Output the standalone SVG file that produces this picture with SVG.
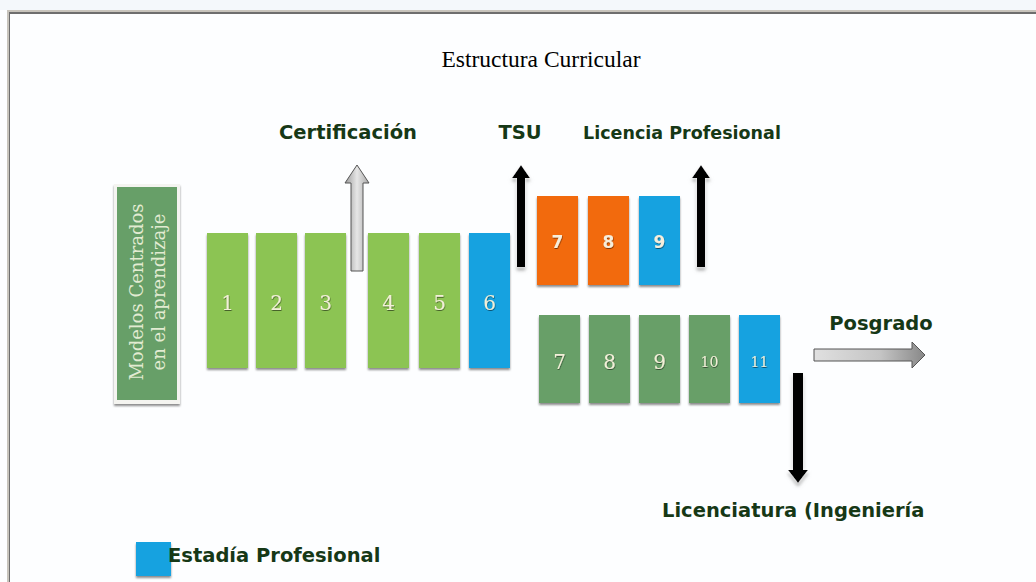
<svg xmlns="http://www.w3.org/2000/svg" width="1036" height="582" viewBox="0 0 1036 582">
<defs>
<style>
.lbl{font-family:"DejaVu Sans",Verdana,sans-serif;font-weight:bold;font-size:19.5px;fill:#163816;}
.num{font-family:"DejaVu Serif","Liberation Serif",serif;font-size:20px;fill:#f2efd8;text-anchor:middle;}
.sm{font-size:14px;}
.numb{font-family:"DejaVu Sans",Verdana,sans-serif;font-weight:bold;font-size:17px;fill:#f6eedc;text-anchor:middle;}
.g1{fill:#8cc453;}
.bl{fill:#16a2e0;}
.or{fill:#f26a10;}
.g2{fill:#679f68;}
</style>
<filter id="sh" x="-20%" y="-10%" width="140%" height="130%">
<feDropShadow dx="0" dy="2" stdDeviation="1.2" flood-color="#000" flood-opacity="0.45"/>
</filter>
<filter id="ts" x="-20%" y="-20%" width="140%" height="140%">
<feDropShadow dx="0.5" dy="1" stdDeviation="0.6" flood-color="#000" flood-opacity="0.5"/>
</filter>
<filter id="glow" x="-30%" y="-10%" width="160%" height="120%">
<feDropShadow dx="0" dy="0" stdDeviation="1.5" flood-color="#fff" flood-opacity="1"/>
<feDropShadow dx="0" dy="3" stdDeviation="1.5" flood-color="#777" flood-opacity="0.6"/>
</filter>
<linearGradient id="gv" x1="0" y1="0" x2="1" y2="0">
<stop offset="0" stop-color="#9a9a9a"/><stop offset="0.5" stop-color="#e6e6e6"/><stop offset="1" stop-color="#a8a8a8"/>
</linearGradient>
<linearGradient id="gb" x1="0" y1="0" x2="1" y2="0">
<stop offset="0" stop-color="#e0e0e0"/><stop offset="0.6" stop-color="#c4c4c4"/><stop offset="1" stop-color="#888"/>
</linearGradient>
</defs>
<rect width="1036" height="582" fill="#fdfeff"/>
<rect width="1036" height="10" fill="#f4f8fb"/>
<rect x="7" y="10" width="1029" height="2" fill="#c8c4bc"/>
<rect x="9" y="12" width="1027" height="2" fill="#6e6e6e"/>
<rect x="7" y="10" width="2" height="572" fill="#c8c4bc"/>
<rect x="9" y="12" width="1" height="570" fill="#6e6e6e"/>
<text x="541" y="67" font-family="Liberation Serif,serif" font-size="23.5" text-anchor="middle" fill="#000">Estructura Curricular</text>

<g id="modelos">
<rect x="114" y="184" width="66" height="220" fill="#f4f4f0" filter="url(#sh)"/>
<rect x="117" y="187" width="60" height="213" class="g2"/>
<text transform="translate(143,292) rotate(-90)" font-family="DejaVu Serif,serif" font-size="18" fill="#e2ebd2" text-anchor="middle">Modelos Centrados</text>
<text transform="translate(165,292) rotate(-90)" font-family="DejaVu Serif,serif" font-size="18" fill="#e2ebd2" text-anchor="middle">en el aprendizaje</text>
</g>

<g id="s1"><rect x="207" y="233" width="41" height="135" class="g1" filter="url(#sh)"/><text x="227.5" y="310" class="num" filter="url(#ts)">1</text></g>
<g id="s2"><rect x="256" y="233" width="41" height="135" class="g1" filter="url(#sh)"/><text x="276.5" y="310" class="num" filter="url(#ts)">2</text></g>
<g id="s3"><rect x="305" y="233" width="41" height="135" class="g1" filter="url(#sh)"/><text x="325.5" y="310" class="num" filter="url(#ts)">3</text></g>
<g id="s4"><rect x="368" y="233" width="41" height="135" class="g1" filter="url(#sh)"/><text x="388.5" y="310" class="num" filter="url(#ts)">4</text></g>
<g id="s5"><rect x="419" y="233" width="41" height="135" class="g1" filter="url(#sh)"/><text x="439.5" y="310" class="num" filter="url(#ts)">5</text></g>
<g id="s6"><rect x="469" y="233" width="41" height="135" class="bl" filter="url(#sh)"/><text x="489.5" y="310" class="num" filter="url(#ts)">6</text></g>

<g id="lp7"><rect x="537" y="196" width="41" height="89" class="or" filter="url(#sh)"/><text x="557.5" y="248" class="numb" filter="url(#ts)">7</text></g>
<g id="lp8"><rect x="588" y="196" width="41" height="89" class="or" filter="url(#sh)"/><text x="608.5" y="248" class="numb" filter="url(#ts)">8</text></g>
<g id="lp9"><rect x="639" y="196" width="41" height="89" class="bl" filter="url(#sh)"/><text x="659.5" y="248" class="numb" filter="url(#ts)">9</text></g>

<g id="l7"><rect x="539" y="315" width="41" height="88" class="g2" filter="url(#sh)"/><text x="559.5" y="369" class="num" filter="url(#ts)">7</text></g>
<g id="l8"><rect x="589" y="315" width="41" height="88" class="g2" filter="url(#sh)"/><text x="609.5" y="369" class="num" filter="url(#ts)">8</text></g>
<g id="l9"><rect x="639" y="315" width="41" height="88" class="g2" filter="url(#sh)"/><text x="659.5" y="369" class="num" filter="url(#ts)">9</text></g>
<g id="l10"><rect x="689" y="315" width="41" height="88" class="g2" filter="url(#sh)"/><text x="709.5" y="367" class="num sm" filter="url(#ts)">10</text></g>
<g id="l11"><rect x="739" y="315" width="41" height="88" class="bl" filter="url(#sh)"/><text x="759.5" y="367" class="num sm" filter="url(#ts)">11</text></g>

<g id="connectors">
<path d="M351,271 V183 H345 L357,165 L369,183 H363 V271 Z" fill="url(#gv)" stroke="#555" stroke-width="1"/>
<path d="M517,267 V178 H512 L521,165 L530,178 H525 V267 Z" fill="#000" filter="url(#glow)"/>
<path d="M697,267 V178 H692 L701,165 L710,178 H705 V267 Z" fill="#000" filter="url(#glow)"/>
<path d="M793,373 V470 H788 L798,483 L808,470 H803 V373 Z" fill="#000" filter="url(#glow)"/>
<path d="M814,349 H912 V342 L925,355 L912,368 V361 H814 Z" fill="url(#gb)" stroke="#555" stroke-width="1"/>
</g>

<g id="labels">
<text x="348" y="139" class="lbl" text-anchor="middle">Certificación</text>
<text x="520" y="139" class="lbl" text-anchor="middle">TSU</text>
<text x="682" y="139" class="lbl" text-anchor="middle" style="font-size:17.5px">Licencia Profesional</text>
<text x="881" y="330" class="lbl" text-anchor="middle">Posgrado</text>
<text x="662" y="517" class="lbl">Licenciatura (Ingeniería</text>
</g>

<g id="legend">
<rect x="136" y="542" width="35" height="34" class="bl" filter="url(#sh)"/>
<text x="168" y="562" class="lbl">Estadía Profesional</text>
</g>
</svg>
